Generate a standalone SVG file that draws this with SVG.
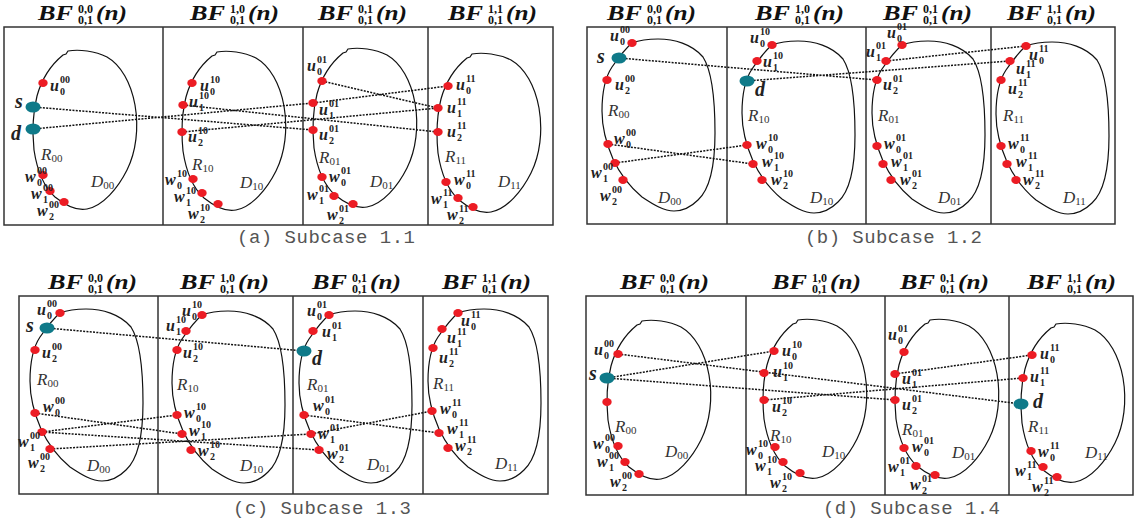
<svg xmlns="http://www.w3.org/2000/svg" width="1140" height="528" viewBox="0 0 1140 528">
<style>
.fr{fill:none;stroke:#333;stroke-width:1.5}
.bl{fill:none;stroke:#111;stroke-width:1.2}
.cn{fill:none;stroke:#111;stroke-width:1.5;stroke-dasharray:2 1.3}
.r{fill:#ec1c24}
.t{fill:#0f7a89}
.tb{font-family:"Liberation Serif",serif;font-weight:bold;font-style:italic;font-size:22px;fill:#111}
.ts{font-family:"Liberation Serif",serif;font-weight:bold;font-size:12px;fill:#111}
.l{font-family:"Liberation Serif",serif;font-weight:bold;font-style:italic;font-size:16px;fill:#222}
.n{font-family:"Liberation Serif",serif;font-weight:bold;font-style:normal;font-size:10px}
.sd{font-family:"Liberation Serif",serif;font-weight:bold;font-style:italic;font-size:20px;fill:#222}
.rd{font-family:"Liberation Serif",serif;font-style:italic;font-size:17px;fill:#333}
.rs{font-style:normal;font-size:11px}
.cap{font-family:"Liberation Mono",monospace;font-size:19px;fill:#555}
</style>
<defs>
<path id="A" d="M35,1 C46,-1 62,1 74,7 C88,15 98,33 102,55 C106,78 103,102 94,120 C85,138 70,156 54,159 C44,161 32,155 22,147 C11,137 4,120 1,100 C-1,80 0,62 4,46 C9,28 19,14 30,5 L33,4 Z"/>
<path id="B" d="M30,4 C38,1 48,0 56,0 C72,0 90,5 101,18 C110,32 113,60 113,94 C113,125 108,150 96,161 C88,169 80,172 72,172 C62,172 52,166 40,158 C28,148 17,133 11,120 C4,104 0,90 0,72 C0,55 2,40 10,28 C17,18 24,9 30,4 Z"/>
<g id="T00"><text class="tb" textLength="35" lengthAdjust="spacingAndGlyphs">BF</text><text class="ts" x="40" y="-7">0,0</text><text class="ts" x="40" y="4">0,1</text><text class="tb" x="58" textLength="31" lengthAdjust="spacingAndGlyphs">(n)</text></g>
<g id="T10"><text class="tb" textLength="35" lengthAdjust="spacingAndGlyphs">BF</text><text class="ts" x="40" y="-7">1,0</text><text class="ts" x="40" y="4">0,1</text><text class="tb" x="58" textLength="31" lengthAdjust="spacingAndGlyphs">(n)</text></g>
<g id="T01"><text class="tb" textLength="35" lengthAdjust="spacingAndGlyphs">BF</text><text class="ts" x="40" y="-7">0,1</text><text class="ts" x="40" y="4">0,1</text><text class="tb" x="58" textLength="31" lengthAdjust="spacingAndGlyphs">(n)</text></g>
<g id="T11"><text class="tb" textLength="35" lengthAdjust="spacingAndGlyphs">BF</text><text class="ts" x="40" y="-7">1,1</text><text class="ts" x="40" y="4">0,1</text><text class="tb" x="58" textLength="31" lengthAdjust="spacingAndGlyphs">(n)</text></g>
</defs>

<g id="frames">
<rect class="fr" x="4" y="27" width="549" height="198"/>
<path class="fr" d="M163,27V225M303,27V225M428,27V225"/>
<rect class="fr" x="587" y="27" width="528" height="197"/>
<path class="fr" d="M727,27V224M866,27V224M991,27V224"/>
<rect class="fr" x="19" y="296" width="529" height="198"/>
<path class="fr" d="M158,296V494M293,296V494M423,296V494"/>
<rect class="fr" x="586" y="296" width="547" height="199"/>
<path class="fr" d="M746,296V495M885,296V495M1009,296V495"/>
</g>

<g id="titles">
<use href="#T00" x="38" y="20"/><use href="#T10" x="190" y="20"/><use href="#T01" x="318" y="20"/><use href="#T11" x="448" y="20"/>
<use href="#T00" x="607" y="20"/><use href="#T10" x="755" y="20"/><use href="#T01" x="883" y="20"/><use href="#T11" x="1007" y="20"/>
<use href="#T00" x="48" y="289"/><use href="#T10" x="180" y="289"/><use href="#T01" x="312" y="289"/><use href="#T11" x="442" y="289"/>
<use href="#T00" x="620" y="289"/><use href="#T10" x="772" y="289"/><use href="#T01" x="900" y="289"/><use href="#T11" x="1027" y="289"/>
</g>

<g id="captions">
<text class="cap" x="237" y="243" textLength="178" xml:space="preserve">(a) Subcase 1.1</text>
<text class="cap" x="805" y="243" textLength="177" xml:space="preserve">(b) Subcase 1.2</text>
<text class="cap" x="233" y="514" textLength="178" xml:space="preserve">(c) Subcase 1.3</text>
<text class="cap" x="823" y="514" textLength="177" xml:space="preserve">(d) Subcase 1.4</text>
</g>

<g id="connectors">
<path class="cn" d="M33,107L313,130M33,129L313,103M183,105L438,132M182,132L438,108M322,81L438,108M313,103L448,86"/>
<path class="cn" d="M619,58L877,80M747,81L1010,61M886,61L1026,46M608,144L753,164M615,163L747,145"/>
<path class="cn" d="M47,328L304,351M35,413L182,434M42,432L177,415M42,432L319,450M50,449L311,434M304,415L439,433M311,434L432,411"/>
<path class="cn" d="M618,354L1021,404M607,378L774,351M607,378L895,400M764,400L1023,378M895,374L1032,355"/>
</g>

<g id="a-BF00">
<use href="#A" class="bl" x="33" y="50"/>
<ellipse class="r" cx="43" cy="83" rx="4.7" ry="4"/>
<ellipse class="t" cx="33" cy="107" rx="7.5" ry="5.5"/>
<ellipse class="t" cx="33" cy="129" rx="7.5" ry="5.5"/>
<ellipse class="r" cx="43" cy="175" rx="4.7" ry="4"/>
<ellipse class="r" cx="50" cy="191" rx="4.7" ry="4"/>
<ellipse class="r" cx="64" cy="202" rx="4.7" ry="4"/>
<text class="l" x="50" y="91">u<tspan class="n" x="60" y="83">00</tspan><tspan class="n" x="60" y="95">0</tspan></text>
<text class="sd" x="15" y="108">s</text>
<text class="sd" x="11" y="140">d</text>
<text class="rd" x="41" y="160">R<tspan class="rs" dy="2">00</tspan></text>
<text class="rd" x="91" y="187">D<tspan class="rs" dy="2">00</tspan></text>
<text class="l" x="25" y="182">w<tspan class="n" x="37" y="174">00</tspan><tspan class="n" x="37" y="186">0</tspan></text>
<text class="l" x="31" y="199">w<tspan class="n" x="43" y="191">00</tspan><tspan class="n" x="43" y="203">1</tspan></text>
<text class="l" x="37" y="216">w<tspan class="n" x="49" y="208">00</tspan><tspan class="n" x="49" y="220">2</tspan></text>
</g>
<g id="a-BF10">
<use href="#A" class="bl" x="182" y="51"/>
<ellipse class="r" cx="192" cy="83" rx="4.7" ry="4"/>
<ellipse class="r" cx="183" cy="105" rx="4.7" ry="4"/>
<ellipse class="r" cx="182" cy="132" rx="4.7" ry="4"/>
<ellipse class="r" cx="193" cy="179" rx="4.7" ry="4"/>
<ellipse class="r" cx="202" cy="193" rx="4.7" ry="4"/>
<ellipse class="r" cx="218" cy="204" rx="4.7" ry="4"/>
<text class="l" x="200" y="91">u<tspan class="n" x="210" y="83">10</tspan><tspan class="n" x="210" y="95">0</tspan></text>
<text class="l" x="189" y="107">u<tspan class="n" x="199" y="99">10</tspan><tspan class="n" x="199" y="111">1</tspan></text>
<text class="l" x="188" y="142">u<tspan class="n" x="198" y="134">10</tspan><tspan class="n" x="198" y="146">2</tspan></text>
<text class="rd" x="192" y="170">R<tspan class="rs" dy="2">10</tspan></text>
<text class="rd" x="240" y="188">D<tspan class="rs" dy="2">10</tspan></text>
<text class="l" x="165" y="185">w<tspan class="n" x="177" y="177">10</tspan><tspan class="n" x="177" y="189">0</tspan></text>
<text class="l" x="174" y="202">w<tspan class="n" x="186" y="194">10</tspan><tspan class="n" x="186" y="206">1</tspan></text>
<text class="l" x="188" y="219">w<tspan class="n" x="200" y="211">10</tspan><tspan class="n" x="200" y="223">2</tspan></text>
</g>
<g id="a-BF01">
<use href="#A" class="bl" x="313" y="48"/>
<ellipse class="r" cx="322" cy="81" rx="4.7" ry="4"/>
<ellipse class="r" cx="313" cy="103" rx="4.7" ry="4"/>
<ellipse class="r" cx="313" cy="130" rx="4.7" ry="4"/>
<ellipse class="r" cx="322" cy="177" rx="4.7" ry="4"/>
<ellipse class="r" cx="334" cy="196" rx="4.7" ry="4"/>
<ellipse class="r" cx="353" cy="204" rx="4.7" ry="4"/>
<text class="l" x="307" y="71">u<tspan class="n" x="317" y="63">01</tspan><tspan class="n" x="317" y="75">0</tspan></text>
<text class="l" x="319" y="115">u<tspan class="n" x="329" y="107">01</tspan><tspan class="n" x="329" y="119">1</tspan></text>
<text class="l" x="319" y="140">u<tspan class="n" x="329" y="132">01</tspan><tspan class="n" x="329" y="144">2</tspan></text>
<text class="rd" x="319" y="163">R<tspan class="rs" dy="2">01</tspan></text>
<text class="rd" x="370" y="187">D<tspan class="rs" dy="2">01</tspan></text>
<text class="l" x="329" y="182">w<tspan class="n" x="341" y="174">01</tspan><tspan class="n" x="341" y="186">0</tspan></text>
<text class="l" x="307" y="200">w<tspan class="n" x="319" y="192">01</tspan><tspan class="n" x="319" y="204">1</tspan></text>
<text class="l" x="327" y="220">w<tspan class="n" x="339" y="212">01</tspan><tspan class="n" x="339" y="224">2</tspan></text>
</g>
<g id="a-BF11">
<use href="#A" class="bl" x="437" y="53"/>
<ellipse class="r" cx="448" cy="86" rx="4.7" ry="4"/>
<ellipse class="r" cx="438" cy="108" rx="4.7" ry="4"/>
<ellipse class="r" cx="438" cy="132" rx="4.7" ry="4"/>
<ellipse class="r" cx="446" cy="182" rx="4.7" ry="4"/>
<ellipse class="r" cx="458" cy="198" rx="4.7" ry="4"/>
<ellipse class="r" cx="473" cy="207" rx="4.7" ry="4"/>
<text class="l" x="456" y="90">u<tspan class="n" x="466" y="82">11</tspan><tspan class="n" x="466" y="94">0</tspan></text>
<text class="l" x="447" y="113">u<tspan class="n" x="457" y="105">11</tspan><tspan class="n" x="457" y="117">1</tspan></text>
<text class="l" x="447" y="137">u<tspan class="n" x="457" y="129">11</tspan><tspan class="n" x="457" y="141">2</tspan></text>
<text class="rd" x="445" y="162">R<tspan class="rs" dy="2">11</tspan></text>
<text class="rd" x="498" y="187">D<tspan class="rs" dy="2">11</tspan></text>
<text class="l" x="454" y="185">w<tspan class="n" x="466" y="177">11</tspan><tspan class="n" x="466" y="189">0</tspan></text>
<text class="l" x="431" y="204">w<tspan class="n" x="443" y="196">11</tspan><tspan class="n" x="443" y="208">1</tspan></text>
<text class="l" x="447" y="220">w<tspan class="n" x="459" y="212">11</tspan><tspan class="n" x="459" y="224">2</tspan></text>
</g>

<g id="b-BF00">
<use href="#B" class="bl" x="602" y="39"/>
<ellipse class="r" cx="632" cy="43" rx="4.7" ry="4"/>
<ellipse class="t" cx="619" cy="58" rx="7.5" ry="5.5"/>
<ellipse class="r" cx="607" cy="80" rx="4.7" ry="4"/>
<ellipse class="r" cx="608" cy="144" rx="4.7" ry="4"/>
<ellipse class="r" cx="615" cy="163" rx="4.7" ry="4"/>
<ellipse class="r" cx="623" cy="180" rx="4.7" ry="4"/>
<text class="l" x="610" y="41">u<tspan class="n" x="620" y="33">00</tspan><tspan class="n" x="620" y="45">0</tspan></text>
<text class="sd" x="597" y="63">s</text>
<text class="l" x="615" y="90">u<tspan class="n" x="625" y="82">00</tspan><tspan class="n" x="625" y="94">2</tspan></text>
<text class="rd" x="608" y="116">R<tspan class="rs" dy="2">00</tspan></text>
<text class="rd" x="658" y="203">D<tspan class="rs" dy="2">00</tspan></text>
<text class="l" x="614" y="144">w<tspan class="n" x="626" y="136">00</tspan><tspan class="n" x="626" y="148">0</tspan></text>
<text class="l" x="591" y="178">w<tspan class="n" x="603" y="170">00</tspan><tspan class="n" x="603" y="182">1</tspan></text>
<text class="l" x="600" y="201">w<tspan class="n" x="612" y="193">00</tspan><tspan class="n" x="612" y="205">2</tspan></text>
</g>
<g id="b-BF10">
<use href="#B" class="bl" x="742" y="41"/>
<ellipse class="r" cx="772" cy="45" rx="4.7" ry="4"/>
<ellipse class="r" cx="757" cy="61" rx="4.7" ry="4"/>
<ellipse class="t" cx="747" cy="81" rx="7.5" ry="5.5"/>
<ellipse class="r" cx="747" cy="145" rx="4.7" ry="4"/>
<ellipse class="r" cx="753" cy="164" rx="4.7" ry="4"/>
<ellipse class="r" cx="762" cy="180" rx="4.7" ry="4"/>
<text class="l" x="750" y="43">u<tspan class="n" x="760" y="35">10</tspan><tspan class="n" x="760" y="47">0</tspan></text>
<text class="l" x="763" y="67">u<tspan class="n" x="773" y="59">10</tspan><tspan class="n" x="773" y="71">1</tspan></text>
<text class="sd" x="755" y="96">d</text>
<text class="rd" x="748" y="121">R<tspan class="rs" dy="2">10</tspan></text>
<text class="rd" x="810" y="203">D<tspan class="rs" dy="2">10</tspan></text>
<text class="l" x="756" y="149">w<tspan class="n" x="768" y="141">10</tspan><tspan class="n" x="768" y="153">0</tspan></text>
<text class="l" x="762" y="167">w<tspan class="n" x="774" y="159">10</tspan><tspan class="n" x="774" y="171">1</tspan></text>
<text class="l" x="771" y="185">w<tspan class="n" x="783" y="177">10</tspan><tspan class="n" x="783" y="189">2</tspan></text>
</g>
<g id="b-BF01">
<use href="#B" class="bl" x="872" y="41"/>
<ellipse class="r" cx="902" cy="45" rx="4.7" ry="4"/>
<ellipse class="r" cx="886" cy="61" rx="4.7" ry="4"/>
<ellipse class="r" cx="877" cy="80" rx="4.7" ry="4"/>
<ellipse class="r" cx="877" cy="146" rx="4.7" ry="4"/>
<ellipse class="r" cx="883" cy="164" rx="4.7" ry="4"/>
<ellipse class="r" cx="891" cy="180" rx="4.7" ry="4"/>
<text class="l" x="887" y="38">u<tspan class="n" x="897" y="30">01</tspan><tspan class="n" x="897" y="42">0</tspan></text>
<text class="l" x="866" y="57">u<tspan class="n" x="876" y="49">01</tspan><tspan class="n" x="876" y="61">1</tspan></text>
<text class="l" x="883" y="90">u<tspan class="n" x="893" y="82">01</tspan><tspan class="n" x="893" y="94">2</tspan></text>
<text class="rd" x="878" y="121">R<tspan class="rs" dy="2">01</tspan></text>
<text class="rd" x="938" y="203">D<tspan class="rs" dy="2">01</tspan></text>
<text class="l" x="884" y="149">w<tspan class="n" x="896" y="141">01</tspan><tspan class="n" x="896" y="153">0</tspan></text>
<text class="l" x="891" y="167">w<tspan class="n" x="903" y="159">01</tspan><tspan class="n" x="903" y="171">1</tspan></text>
<text class="l" x="900" y="185">w<tspan class="n" x="912" y="177">01</tspan><tspan class="n" x="912" y="189">2</tspan></text>
</g>
<g id="b-BF11">
<use href="#B" class="bl" x="996" y="42"/>
<ellipse class="r" cx="1026" cy="46" rx="4.7" ry="4"/>
<ellipse class="r" cx="1010" cy="61" rx="4.7" ry="4"/>
<ellipse class="r" cx="1001" cy="80" rx="4.7" ry="4"/>
<ellipse class="r" cx="1001" cy="146" rx="4.7" ry="4"/>
<ellipse class="r" cx="1007" cy="164" rx="4.7" ry="4"/>
<ellipse class="r" cx="1016" cy="180" rx="4.7" ry="4"/>
<text class="l" x="1029" y="60">u<tspan class="n" x="1039" y="52">11</tspan><tspan class="n" x="1039" y="64">0</tspan></text>
<text class="l" x="1016" y="74">u<tspan class="n" x="1026" y="67">11</tspan><tspan class="n" x="1026" y="78">1</tspan></text>
<text class="l" x="1008" y="94">u<tspan class="n" x="1018" y="86">11</tspan><tspan class="n" x="1018" y="98">2</tspan></text>
<text class="rd" x="1003" y="121">R<tspan class="rs" dy="2">11</tspan></text>
<text class="rd" x="1063" y="203">D<tspan class="rs" dy="2">11</tspan></text>
<text class="l" x="1008" y="149">w<tspan class="n" x="1020" y="141">11</tspan><tspan class="n" x="1020" y="153">0</tspan></text>
<text class="l" x="1016" y="167">w<tspan class="n" x="1028" y="159">11</tspan><tspan class="n" x="1028" y="171">1</tspan></text>
<text class="l" x="1023" y="185">w<tspan class="n" x="1035" y="177">11</tspan><tspan class="n" x="1035" y="189">2</tspan></text>
</g>

<g id="c-BF00">
<use href="#B" class="bl" x="30" y="309"/>
<ellipse class="r" cx="60" cy="313" rx="4.7" ry="4"/>
<ellipse class="t" cx="47" cy="328" rx="7.5" ry="5.5"/>
<ellipse class="r" cx="35" cy="350" rx="4.7" ry="4"/>
<ellipse class="r" cx="35" cy="413" rx="4.7" ry="4"/>
<ellipse class="r" cx="42" cy="432" rx="4.7" ry="4"/>
<ellipse class="r" cx="50" cy="449" rx="4.7" ry="4"/>
<text class="l" x="37" y="315">u<tspan class="n" x="47" y="307">00</tspan><tspan class="n" x="47" y="319">0</tspan></text>
<text class="sd" x="26" y="332">s</text>
<text class="l" x="42" y="358">u<tspan class="n" x="52" y="350">00</tspan><tspan class="n" x="52" y="362">2</tspan></text>
<text class="rd" x="37" y="385">R<tspan class="rs" dy="2">00</tspan></text>
<text class="rd" x="87" y="471">D<tspan class="rs" dy="2">00</tspan></text>
<text class="l" x="43" y="412">w<tspan class="n" x="55" y="404">00</tspan><tspan class="n" x="55" y="416">0</tspan></text>
<text class="l" x="18" y="447">w<tspan class="n" x="30" y="439">00</tspan><tspan class="n" x="30" y="451">1</tspan></text>
<text class="l" x="28" y="468">w<tspan class="n" x="40" y="460">00</tspan><tspan class="n" x="40" y="472">2</tspan></text>
</g>
<g id="c-BF10">
<use href="#B" class="bl" x="172" y="311"/>
<ellipse class="r" cx="202" cy="315" rx="4.7" ry="4"/>
<ellipse class="r" cx="186" cy="331" rx="4.7" ry="4"/>
<ellipse class="r" cx="177" cy="350" rx="4.7" ry="4"/>
<ellipse class="r" cx="177" cy="415" rx="4.7" ry="4"/>
<ellipse class="r" cx="182" cy="434" rx="4.7" ry="4"/>
<ellipse class="r" cx="191" cy="450" rx="4.7" ry="4"/>
<text class="l" x="182" y="316">u<tspan class="n" x="192" y="308">10</tspan><tspan class="n" x="192" y="320">0</tspan></text>
<text class="l" x="166" y="331">u<tspan class="n" x="176" y="323">10</tspan><tspan class="n" x="176" y="335">1</tspan></text>
<text class="l" x="183" y="358">u<tspan class="n" x="193" y="350">10</tspan><tspan class="n" x="193" y="362">2</tspan></text>
<text class="rd" x="177" y="390">R<tspan class="rs" dy="2">10</tspan></text>
<text class="rd" x="240" y="471">D<tspan class="rs" dy="2">10</tspan></text>
<text class="l" x="184" y="418">w<tspan class="n" x="196" y="410">10</tspan><tspan class="n" x="196" y="422">0</tspan></text>
<text class="l" x="189" y="436">w<tspan class="n" x="201" y="428">10</tspan><tspan class="n" x="201" y="440">1</tspan></text>
<text class="l" x="198" y="456">w<tspan class="n" x="210" y="448">10</tspan><tspan class="n" x="210" y="460">2</tspan></text>
</g>
<g id="c-BF01">
<use href="#B" class="bl" x="299" y="311"/>
<ellipse class="r" cx="329" cy="315" rx="4.7" ry="4"/>
<ellipse class="r" cx="313" cy="331" rx="4.7" ry="4"/>
<ellipse class="t" cx="304" cy="351" rx="7.5" ry="5.5"/>
<ellipse class="r" cx="304" cy="415" rx="4.7" ry="4"/>
<ellipse class="r" cx="311" cy="434" rx="4.7" ry="4"/>
<ellipse class="r" cx="319" cy="450" rx="4.7" ry="4"/>
<text class="l" x="307" y="316">u<tspan class="n" x="317" y="308">01</tspan><tspan class="n" x="317" y="320">0</tspan></text>
<text class="l" x="322" y="337">u<tspan class="n" x="332" y="329">01</tspan><tspan class="n" x="332" y="341">1</tspan></text>
<text class="sd" x="312" y="365">d</text>
<text class="rd" x="307" y="390">R<tspan class="rs" dy="2">01</tspan></text>
<text class="rd" x="367" y="470">D<tspan class="rs" dy="2">01</tspan></text>
<text class="l" x="313" y="411">w<tspan class="n" x="325" y="403">01</tspan><tspan class="n" x="325" y="415">0</tspan></text>
<text class="l" x="318" y="439">w<tspan class="n" x="330" y="431">01</tspan><tspan class="n" x="330" y="443">1</tspan></text>
<text class="l" x="327" y="459">w<tspan class="n" x="339" y="451">01</tspan><tspan class="n" x="339" y="463">2</tspan></text>
</g>
<g id="c-BF11">
<use href="#B" class="bl" x="428" y="309"/>
<ellipse class="r" cx="458" cy="313" rx="4.7" ry="4"/>
<ellipse class="r" cx="442" cy="329" rx="4.7" ry="4"/>
<ellipse class="r" cx="433" cy="348" rx="4.7" ry="4"/>
<ellipse class="r" cx="432" cy="411" rx="4.7" ry="4"/>
<ellipse class="r" cx="439" cy="433" rx="4.7" ry="4"/>
<ellipse class="r" cx="448" cy="448" rx="4.7" ry="4"/>
<text class="l" x="461" y="326">u<tspan class="n" x="471" y="318">11</tspan><tspan class="n" x="471" y="330">0</tspan></text>
<text class="l" x="447" y="343">u<tspan class="n" x="457" y="335">11</tspan><tspan class="n" x="457" y="347">1</tspan></text>
<text class="l" x="439" y="363">u<tspan class="n" x="449" y="355">11</tspan><tspan class="n" x="449" y="367">2</tspan></text>
<text class="rd" x="433" y="389">R<tspan class="rs" dy="2">11</tspan></text>
<text class="rd" x="495" y="469">D<tspan class="rs" dy="2">11</tspan></text>
<text class="l" x="440" y="414">w<tspan class="n" x="452" y="406">11</tspan><tspan class="n" x="452" y="418">0</tspan></text>
<text class="l" x="447" y="434">w<tspan class="n" x="459" y="426">11</tspan><tspan class="n" x="459" y="438">1</tspan></text>
<text class="l" x="455" y="451">w<tspan class="n" x="467" y="443">11</tspan><tspan class="n" x="467" y="455">2</tspan></text>
</g>

<g id="d-BF00">
<use href="#A" class="bl" x="607" y="320"/>
<ellipse class="r" cx="618" cy="354" rx="4.7" ry="4"/>
<ellipse class="t" cx="607" cy="378" rx="7.5" ry="5.5"/>
<ellipse class="r" cx="607" cy="402" rx="4.7" ry="4"/>
<ellipse class="r" cx="618" cy="446" rx="4.7" ry="4"/>
<ellipse class="r" cx="625" cy="462" rx="4.7" ry="4"/>
<ellipse class="r" cx="639" cy="474" rx="4.7" ry="4"/>
<text class="l" x="594" y="355">u<tspan class="n" x="604" y="347">00</tspan><tspan class="n" x="604" y="359">0</tspan></text>
<text class="sd" x="589" y="380">s</text>
<text class="rd" x="615" y="432">R<tspan class="rs" dy="2">00</tspan></text>
<text class="rd" x="665" y="457">D<tspan class="rs" dy="2">00</tspan></text>
<text class="l" x="593" y="449">w<tspan class="n" x="605" y="441">00</tspan><tspan class="n" x="605" y="453">0</tspan></text>
<text class="l" x="597" y="467">w<tspan class="n" x="609" y="459">00</tspan><tspan class="n" x="609" y="471">1</tspan></text>
<text class="l" x="610" y="487">w<tspan class="n" x="622" y="479">00</tspan><tspan class="n" x="622" y="491">2</tspan></text>
</g>
<g id="d-BF10">
<use href="#A" class="bl" x="763" y="319"/>
<ellipse class="r" cx="774" cy="351" rx="4.7" ry="4"/>
<ellipse class="r" cx="764" cy="373" rx="4.7" ry="4"/>
<ellipse class="r" cx="764" cy="400" rx="4.7" ry="4"/>
<ellipse class="r" cx="775" cy="447" rx="4.7" ry="4"/>
<ellipse class="r" cx="783" cy="462" rx="4.7" ry="4"/>
<ellipse class="r" cx="800" cy="473" rx="4.7" ry="4"/>
<text class="l" x="782" y="356">u<tspan class="n" x="792" y="348">10</tspan><tspan class="n" x="792" y="360">0</tspan></text>
<text class="l" x="773" y="377">u<tspan class="n" x="783" y="369">10</tspan><tspan class="n" x="783" y="381">1</tspan></text>
<text class="l" x="772" y="412">u<tspan class="n" x="782" y="404">10</tspan><tspan class="n" x="782" y="416">2</tspan></text>
<text class="rd" x="770" y="441">R<tspan class="rs" dy="2">10</tspan></text>
<text class="rd" x="822" y="457">D<tspan class="rs" dy="2">10</tspan></text>
<text class="l" x="746" y="455">w<tspan class="n" x="758" y="447">10</tspan><tspan class="n" x="758" y="459">0</tspan></text>
<text class="l" x="755" y="471">w<tspan class="n" x="767" y="463">10</tspan><tspan class="n" x="767" y="475">1</tspan></text>
<text class="l" x="770" y="488">w<tspan class="n" x="782" y="480">10</tspan><tspan class="n" x="782" y="492">2</tspan></text>
</g>
<g id="d-BF01">
<use href="#A" class="bl" x="895" y="319"/>
<ellipse class="r" cx="904" cy="352" rx="4.7" ry="4"/>
<ellipse class="r" cx="895" cy="374" rx="4.7" ry="4"/>
<ellipse class="r" cx="895" cy="400" rx="4.7" ry="4"/>
<ellipse class="r" cx="904" cy="448" rx="4.7" ry="4"/>
<ellipse class="r" cx="916" cy="466" rx="4.7" ry="4"/>
<ellipse class="r" cx="935" cy="475" rx="4.7" ry="4"/>
<text class="l" x="888" y="340">u<tspan class="n" x="898" y="332">01</tspan><tspan class="n" x="898" y="344">0</tspan></text>
<text class="l" x="902" y="384">u<tspan class="n" x="912" y="376">01</tspan><tspan class="n" x="912" y="388">1</tspan></text>
<text class="l" x="902" y="410">u<tspan class="n" x="912" y="402">01</tspan><tspan class="n" x="912" y="414">2</tspan></text>
<text class="rd" x="902" y="435">R<tspan class="rs" dy="2">01</tspan></text>
<text class="rd" x="952" y="458">D<tspan class="rs" dy="2">01</tspan></text>
<text class="l" x="912" y="452">w<tspan class="n" x="924" y="444">01</tspan><tspan class="n" x="924" y="456">0</tspan></text>
<text class="l" x="888" y="472">w<tspan class="n" x="900" y="464">01</tspan><tspan class="n" x="900" y="476">1</tspan></text>
<text class="l" x="910" y="490">w<tspan class="n" x="922" y="482">01</tspan><tspan class="n" x="922" y="494">2</tspan></text>
</g>
<g id="d-BF11">
<use href="#A" class="bl" x="1021" y="323"/>
<ellipse class="r" cx="1032" cy="355" rx="4.7" ry="4"/>
<ellipse class="r" cx="1023" cy="378" rx="4.7" ry="4"/>
<ellipse class="t" cx="1021" cy="404" rx="7.5" ry="5.5"/>
<ellipse class="r" cx="1031" cy="451" rx="4.7" ry="4"/>
<ellipse class="r" cx="1043" cy="467" rx="4.7" ry="4"/>
<ellipse class="r" cx="1057" cy="477" rx="4.7" ry="4"/>
<text class="l" x="1040" y="359">u<tspan class="n" x="1050" y="351">11</tspan><tspan class="n" x="1050" y="363">0</tspan></text>
<text class="l" x="1030" y="382">u<tspan class="n" x="1040" y="374">11</tspan><tspan class="n" x="1040" y="386">1</tspan></text>
<text class="sd" x="1033" y="408">d</text>
<text class="rd" x="1028" y="432">R<tspan class="rs" dy="2">11</tspan></text>
<text class="rd" x="1085" y="458">D<tspan class="rs" dy="2">11</tspan></text>
<text class="l" x="1038" y="457">w<tspan class="n" x="1050" y="449">11</tspan><tspan class="n" x="1050" y="461">0</tspan></text>
<text class="l" x="1015" y="476">w<tspan class="n" x="1027" y="468">11</tspan><tspan class="n" x="1027" y="480">1</tspan></text>
<text class="l" x="1032" y="492">w<tspan class="n" x="1044" y="484">11</tspan><tspan class="n" x="1044" y="496">2</tspan></text>
</g>
</svg>
